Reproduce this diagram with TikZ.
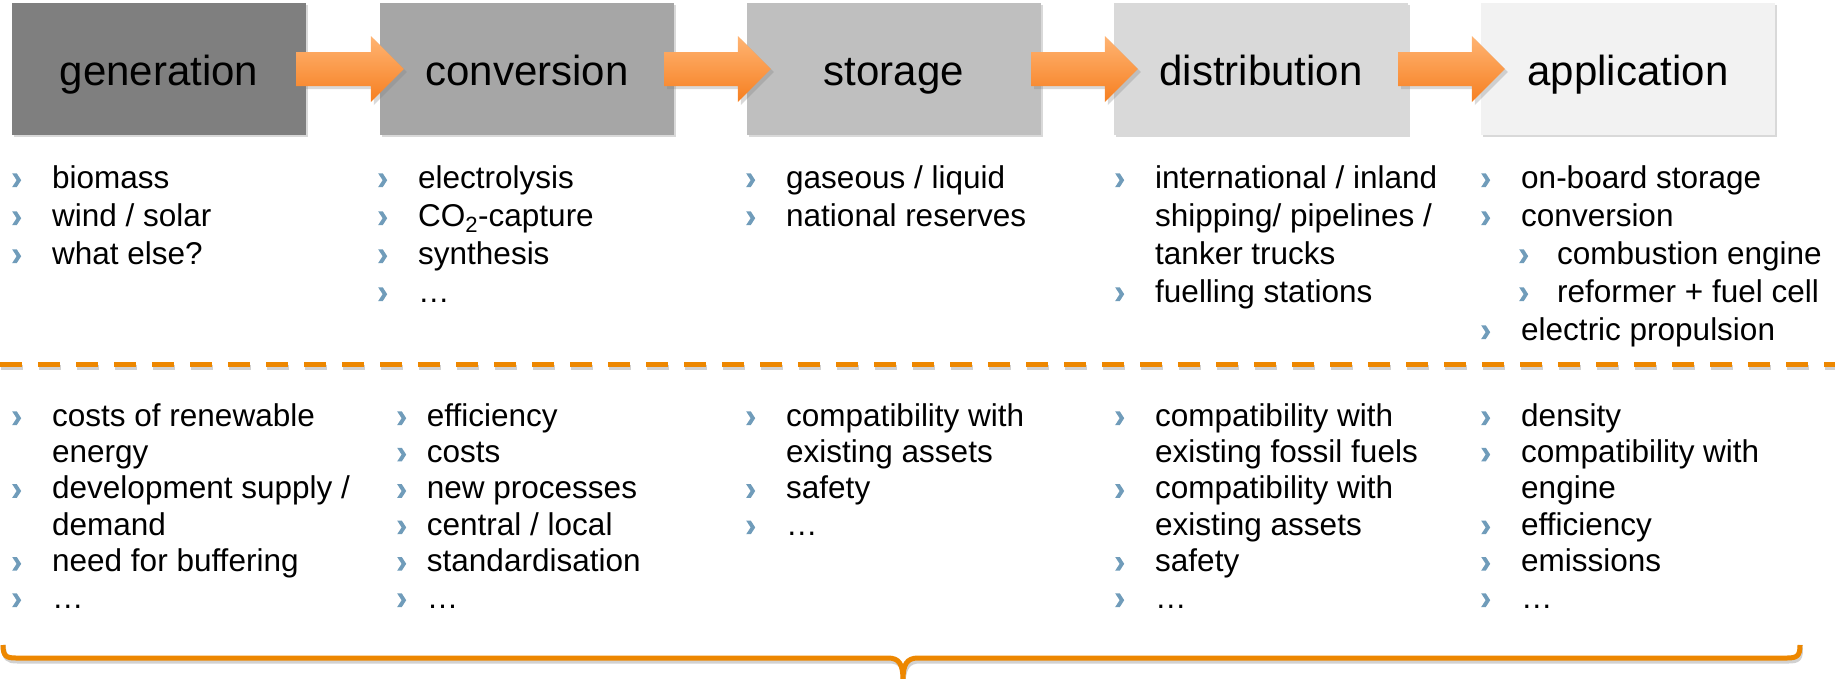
\documentclass[tikz,border=0pt]{standalone}
\usepackage{fontspec}
\setmainfont{Liberation Sans}
\usetikzlibrary{calc,shadows}

\definecolor{accent}{RGB}{237,135,0}
\definecolor{arrowtop}{RGB}{255,180,115}
\definecolor{arrowbot}{RGB}{246,127,32}
\definecolor{bul}{RGB}{112,156,186}
\definecolor{stageA}{RGB}{127,127,127}
\definecolor{stageB}{RGB}{166,166,166}
\definecolor{stageC}{RGB}{191,191,191}
\definecolor{stageD}{RGB}{217,217,217}
\definecolor{stageE}{RGB}{242,242,242}

% chevron bullet mark, sitting on the baseline
\newcommand\bulmark{\tikz[baseline=0pt, x=1pt, y=1pt]
  \fill[bul] (0,1) -- (4.6,1) -- (9,7.8) -- (4.6,14.6) -- (0,14.6) -- (4.4,7.8) -- cycle;}
\newcommand\bul[1][40pt]{\makebox[#1][l]{\bulmark}}
\newcommand\cont{\hspace*{40pt}}
\newcommand\subbul{\hspace*{38pt}\makebox[38pt][l]{\bulmark}}
\newcommand\toplist[1]{\parbox[t]{360pt}{\fontsize{31.5}{38}\selectfont\raggedright #1}}
\newcommand\botlist[1]{\parbox[t]{360pt}{\fontsize{31.5}{36.4}\selectfont\raggedright #1}}

% block arrow from one stage box into the next
\newcommand\stagearrow[2]{%
  \path[flowarrow] ($(#1.east)+(-10,-17)$) -- ($(#2.west)+(-9,-17)$)
    -- ($(#2.west)+(-9,-33)$) -- ($(#2.west)+(24,0)$)
    -- ($(#2.west)+(-9,33)$) -- ($(#2.west)+(-9,17)$)
    -- ($(#1.east)+(-10,17)$) -- cycle;}

\tikzset{
  stagebox/.style={minimum width=294pt, minimum height=132pt, inner sep=0pt,
    font=\fontsize{42}{50}\selectfont, text height=32pt, text depth=0pt,
    drop shadow={shadow xshift=2pt, shadow yshift=-2pt, opacity=0.3}},
  flowarrow/.style={top color=arrowtop, bottom color=arrowbot,
    drop shadow={shadow xshift=3pt, shadow yshift=-3pt, opacity=0.3}},
  itemlist/.style={anchor=base west, inner sep=0pt},
  orangeline/.style={accent, line width=5pt},
  lineshadow/.style={black, opacity=0.18, line width=5pt}
}

\begin{document}
\begin{tikzpicture}[x=1pt, y=-1pt]
\useasboundingbox (0,0) rectangle (1835,678);

% stage boxes
\node[stagebox, fill=stageA] (gen)  at (159,69)  {generation};
\node[stagebox, fill=stageB] (conv) at (527,69)  {conversion};
\node[stagebox, fill=stageC] (stor) at (894,69)  {storage};
\node[stagebox, fill=stageD] (dist) at (1261,69) {distribution};
\node[stagebox, fill=stageE] (appl) at (1628,69) {application};

\stagearrow{gen}{conv}
\stagearrow{conv}{stor}
\stagearrow{stor}{dist}
\stagearrow{dist}{appl}

% options per stage
\node[itemlist] (gen-opt) at (12,188) {\toplist{\bul biomass\\ \bul wind / solar\\ \bul what else?}};
\node[itemlist] (conv-opt) at (378,188) {\toplist{\bul electrolysis\\ \bul CO\textsubscript{2}-capture\\ \bul synthesis\\ \bul …}};
\node[itemlist] (stor-opt) at (746,188) {\toplist{\bul gaseous / liquid\\ \bul national reserves}};
\node[itemlist] (dist-opt) at (1115,188) {\toplist{\bul international / inland\\ \cont shipping/ pipelines /\\ \cont tanker trucks\\ \bul fuelling stations}};
\node[itemlist] (appl-opt) at (1481,188) {\toplist{\bul on-board storage\\ \bul conversion\\ \subbul combustion engine\\ \subbul reformer + fuel cell\\ \bul electric propulsion}};

% dashed separator
\coordinate (sepL) at (0,364);
\coordinate (sepR) at (1835,364);
\draw[lineshadow, dash pattern=on 22pt off 16pt] ([shift={(1,3)}]sepL) -- ([shift={(1,3)}]sepR);
\draw[orangeline, dash pattern=on 22pt off 16pt] (sepL) -- (sepR);

% issues per stage
\node[itemlist] (gen-iss) at (12,426) {\botlist{\bul costs of renewable\\ \cont energy\\ \bul development supply /\\ \cont demand\\ \bul need for buffering\\ \bul …}};
\node[itemlist] (conv-iss) at (397,426) {\botlist{\bul[21pt] efficiency\\ \bul[21pt] costs\\ \bul[21pt] new processes\\ \bul[21pt] central / local\\ \bul[21pt] standardisation\\ \bul[21pt] …}};
\node[itemlist] (stor-iss) at (746,426) {\botlist{\bul compatibility with\\ \cont existing assets\\ \bul safety\\ \bul …}};
\node[itemlist] (dist-iss) at (1115,426) {\botlist{\bul compatibility with\\ \cont existing fossil fuels\\ \bul compatibility with\\ \cont existing assets\\ \bul safety\\ \bul …}};
\node[itemlist] (appl-iss) at (1481,426) {\botlist{\bul density\\ \bul compatibility with\\ \cont engine\\ \bul efficiency\\ \bul emissions\\ \bul …}};

% brace spanning all stages
\coordinate (braceL) at (3,645);
\coordinate (braceR) at (1800,645);
\coordinate (braceTip) at (903,680);
\begin{scope}[shift={(1.5,3)}]
\draw[lineshadow, line join=round] (braceL) .. controls (3,656) and (6,658) .. (16,658) -- (888,658)
  .. controls (899,658) and (903,664) .. (braceTip)
  .. controls (903,664) and (907,658) .. (918,658) -- (1787,658)
  .. controls (1797,658) and (1800,656) .. (braceR);
\end{scope}
\draw[orangeline, line join=round] (braceL) .. controls (3,656) and (6,658) .. (16,658) -- (888,658)
  .. controls (899,658) and (903,664) .. (braceTip)
  .. controls (903,664) and (907,658) .. (918,658) -- (1787,658)
  .. controls (1797,658) and (1800,656) .. (braceR);
\end{tikzpicture}
\end{document}
